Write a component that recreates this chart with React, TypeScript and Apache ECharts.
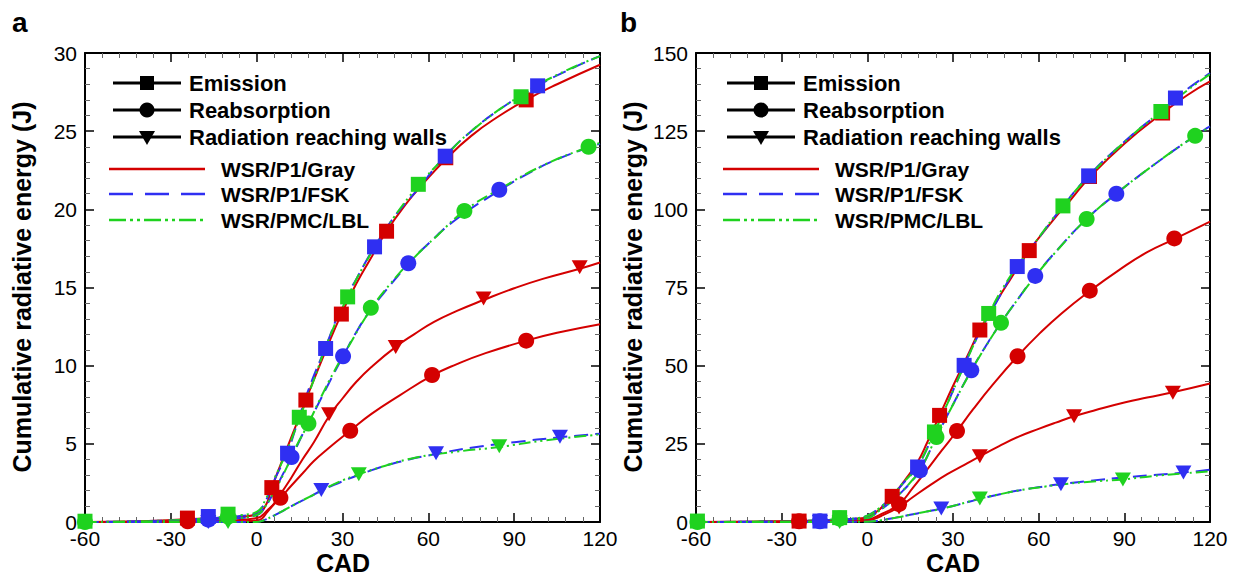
import React, { useEffect, useRef } from "react";
import * as echarts from "echarts";

const FONT = '"Liberation Sans", Arial, Helvetica, sans-serif';
const RED = "#d40000";
const BLUE = "#2f2ff2";
const GREEN = "#1fd21f";

type Pt = [number, number];

// ---------- axis ticks ----------
const cadTicks = { min: -60, max: 120, interval: 30 };
const energyTicksA = { min: 0, max: 30, interval: 5 };
const energyTicksB = { min: 0, max: 150, interval: 25 };

// ---------- legend texts ----------
const quantityLabels = ["Emission", "Reabsorption", "Radiation reaching walls"];
const methodLabels = ["WSR/P1/Gray", "WSR/P1/FSK", "WSR/PMC/LBL"];

// ================= Panel a =================
// Emission
const aEmGrayCurve: Pt[] = [[-60,0],[-40,0.05],[-25,0.18],[-15,0.25],[-5,0.35],[0,0.5],[3,1.0],[5.3,2.2],[8,3.5],[11,4.9],[14,6.3],[17.2,7.8],[20,9.1],[24,10.9],[29.6,13.3],[35,15.3],[40,16.9],[45.4,18.6],[52,20.3],[58,21.6],[66.1,23.2],[75,24.7],[85,26.0],[94.2,27.0],[105,28.0],[120,29.25]];
const aEmGrayMarks: Pt[] = [[-24.2,0.25],[5.3,2.2],[17.2,7.8],[29.6,13.3],[45.4,18.6],[66.1,23.3],[94.2,27.0]];
const aEmFskCurve: Pt[] = [[-60,0],[-40,0.05],[-25,0.15],[-15,0.25],[-5,0.4],[0,0.6],[3,1.3],[6,2.6],[10.8,4.5],[14,6.2],[18,8.4],[24.1,11.2],[30,13.9],[35,15.6],[41.2,17.6],[48,19.5],[55,21.0],[65.9,23.4],[75,25.0],[85,26.4],[98.2,27.9],[110,29.0],[120,29.8]];
const aEmFskMarks: Pt[] = [[-16.9,0.35],[10.8,4.4],[24.1,11.1],[41.2,17.6],[65.9,23.4],[98.2,27.9]];
const aEmLblCurve: Pt[] = [[-60,0],[-40,0.05],[-25,0.15],[-10,0.35],[-5,0.45],[0,0.65],[3,1.4],[6,2.7],[10,4.3],[14.9,6.6],[20,9.1],[25,11.6],[31.8,14.4],[40,17.2],[48,19.5],[56.5,21.5],[65,23.2],[75,25.0],[92.4,27.3],[105,28.6],[120,29.8]];
const aEmLblMarks: Pt[] = [[-60,0.05],[-10,0.5],[14.9,6.7],[31.8,14.4],[56.5,21.6],[92.4,27.2]];
// Reabsorption
const aReGrayCurve: Pt[] = [[-60,0],[-30,0.02],[-10,0.1],[0,0.25],[4,0.8],[8.3,1.55],[12,2.3],[16,3.1],[20,3.9],[25,4.7],[32.7,5.84],[40,6.9],[50,8.1],[61.3,9.36],[70,10.1],[80,10.8],[94.2,11.6],[105,12.1],[120,12.65]];
const aReGrayMarks: Pt[] = [[-24.1,0.05],[8.3,1.55],[32.7,5.84],[61.3,9.4],[94.2,11.6]];
const aReFskCurve: Pt[] = [[-60,0],[-30,0.03],[-10,0.2],[0,0.45],[3,1.0],[6,1.9],[9,3.0],[12.2,4.1],[16,5.6],[20,7.0],[25,8.8],[30.2,10.6],[35,12.2],[40,13.6],[46,15.0],[53,16.5],[60,17.8],[70,19.4],[84.8,21.2],[95,22.3],[105,23.2],[120,24.2]];
const aReFskMarks: Pt[] = [[-16.9,0.15],[12.2,4.15],[30.2,10.6],[53.0,16.55],[84.8,21.25]];
const aReLblCurve: Pt[] = [[-60,0],[-30,0.03],[-10,0.2],[0,0.45],[3,1.0],[6,1.9],[10,3.3],[14,4.9],[18.1,6.3],[22,7.8],[27,9.6],[32,11.2],[39.9,13.6],[47,15.3],[55,16.9],[63,18.3],[72.6,19.9],[85,21.3],[100,22.8],[116,24.0],[120,24.25]];
const aReLblMarks: Pt[] = [[-60,0],[-10,0.35],[18.1,6.3],[39.9,13.7],[72.6,19.9],[116,24.0]];
// Radiation reaching walls
const aWaGrayCurve: Pt[] = [[-60,0],[-30,0],[-10,0.02],[0,0.1],[4,0.7],[8,1.7],[12,2.8],[16,4.0],[20,5.1],[25.3,6.76],[30,7.9],[35,9.0],[40,9.9],[48.6,11.2],[55,12.0],[62,12.8],[70,13.5],[79.3,14.2],[90,14.95],[100,15.55],[112.9,16.2],[120,16.6]];
const aWaGrayMarks: Pt[] = [[25.3,6.9],[48.6,11.2],[79.3,14.3],[112.9,16.3]];
const aWaFskCurve: Pt[] = [[-60,0],[-30,0],[0,0],[3,0.15],[8,0.6],[13,1.1],[18,1.55],[22.6,2.0],[30,2.6],[40,3.3],[50,3.85],[62.7,4.35],[75,4.75],[90,5.1],[106,5.42],[120,5.65]];
const aWaFskMarks: Pt[] = [[-16.9,0],[22.6,2.05],[62.7,4.4],[106,5.45]];
const aWaLblCurve: Pt[] = [[-60,0],[-30,0],[0,0],[3,0.15],[8,0.6],[13,1.1],[20,1.75],[28,2.5],[35.7,3.05],[45,3.6],[55,4.1],[70,4.5],[84.8,4.8],[100,5.2],[120,5.6]];
const aWaLblMarks: Pt[] = [[-10,0],[35.7,3.05],[84.8,4.85]];

// ================= Panel b =================
const bEmGrayCurve: Pt[] = [[-60,0],[-40,0.1],[-25,0.3],[-10,0.7],[-3,1.1],[0,1.6],[4,3.8],[8.7,8.2],[13,13.2],[17.6,19.2],[21,25.5],[25.3,34.1],[30,43.5],[35,53],[39.4,61.4],[45,70.2],[50,77.5],[56.7,86.8],[65,96.5],[71,102.8],[77.8,110.2],[90,121],[103.4,130.8],[112,136.5],[120,140.9]];
const bEmGrayMarks: Pt[] = [[-23.9,0.3],[8.7,8.2],[25.3,34.1],[39.4,61.4],[56.7,86.8],[77.8,110.5],[103.4,130.8]];
const bEmFskCurve: Pt[] = [[-60,0],[-40,0.1],[-25,0.3],[-10,0.8],[-3,1.3],[0,2],[4,4.3],[8,7.5],[12,11.8],[17.6,17.8],[23.5,28.8],[28,37.8],[33.9,50.1],[39,60],[45,70],[52.5,81.7],[60,90.8],[68.5,101],[77.5,110.7],[90,121.6],[102.8,131.4],[107.9,135.6],[120,143.6]];
const bEmFskMarks: Pt[] = [[-16.6,0.3],[17.6,17.6],[33.9,50.1],[52.5,81.7],[77.5,110.7],[107.9,135.6]];
const bEmLblCurve: Pt[] = [[-60,0],[-40,0.1],[-25,0.3],[-9.7,0.9],[-3,1.3],[0,2],[4,4.3],[8,7.6],[12,12],[17.6,18],[23.5,28.8],[28,37.8],[33.9,50],[42.5,66.5],[50,78.5],[58,88.5],[68.5,101.1],[77.5,110.5],[90,121.5],[102.8,131.3],[112,138],[120,143.2]];
const bEmLblMarks: Pt[] = [[-59.5,0.3],[-9.7,1.4],[23.5,28.8],[42.5,66.7],[68.5,101.1],[102.8,131.3]];
const bReGrayCurve: Pt[] = [[-60,0],[-30,0.1],[-10,0.3],[0,0.8],[5,2.6],[11.1,5.7],[16,11],[21,16.8],[26,22.8],[31.4,29.1],[37,36],[44,44],[52.6,53],[60,60],[68,66.7],[77.9,73.9],[88,80.5],[98,86.3],[107.5,90.5],[120,96.1]];
const bReGrayMarks: Pt[] = [[-23.9,0.2],[11.1,5.7],[31.4,29.1],[52.6,53.0],[77.9,74.0],[107.5,90.7]];
const bReFskCurve: Pt[] = [[-60,0],[-30,0.1],[-10,0.5],[0,1.3],[4,3.5],[8,6.3],[12,9.6],[15,12.5],[18.4,16.5],[24.2,27.2],[30,37.6],[36.4,48.5],[41.5,56.3],[46.8,63.7],[52.5,71],[58.8,78.7],[67,87.5],[76.8,96.9],[87.2,105],[100,114],[114.8,123.5],[120,126.5]];
const bReFskMarks: Pt[] = [[-16.6,0.2],[18.4,16.5],[36.4,48.5],[58.8,78.7],[87.2,105]];
const bReLblCurve: Pt[] = [[-60,0],[-30,0.1],[-10,0.5],[0,1.3],[4,3.5],[8,6.3],[12,9.7],[15,12.6],[18.4,16.6],[24.2,27.2],[30,37.5],[36.4,48.4],[41.5,56.2],[46.8,63.7],[52.5,71],[58.8,78.6],[67,87.4],[76.8,96.9],[87.2,105],[100,114],[114.8,123.5],[120,126.2]];
const bReLblMarks: Pt[] = [[-59.5,0],[-9.7,1.1],[24.2,27.2],[46.8,63.7],[76.8,96.9],[114.8,123.5]];
const bWaGrayCurve: Pt[] = [[-60,0],[-30,0.05],[-10,0.15],[0,0.5],[5,2],[11.1,4.8],[16,8],[22,11.8],[28,15.3],[34,18.3],[39.4,21],[46,24.2],[53,27.3],[60,29.8],[66,31.8],[72.4,33.8],[80,35.8],[90,38.2],[98,39.8],[107,41.5],[120,44.3]];
const bWaGrayMarks: Pt[] = [[11.1,4.6],[39.4,21.0],[72.4,33.8],[107,41.3]];
const bWaFskCurve: Pt[] = [[-60,0],[-30,0],[0,0.1],[5,0.6],[10,1.4],[15,2.3],[20,3.2],[25.9,4.3],[32,5.6],[39.4,7.4],[47,9],[55,10.4],[62,11.4],[67.8,12.1],[78,13.2],[89.5,14.2],[100,15],[110.7,15.8],[120,16.7]];
const bWaFskMarks: Pt[] = [[-16.6,0],[25.9,4.3],[67.8,12.1],[110.7,15.8]];
const bWaLblCurve: Pt[] = [[-60,0],[-30,0],[0,0.1],[5,0.6],[10,1.4],[15,2.3],[20,3.2],[25.9,4.2],[32,5.6],[39.4,7.5],[47,9],[55,10.4],[62,11.3],[67.8,12],[78,12.9],[89.5,13.6],[100,14.7],[110,15.5],[120,16.2]];
const bWaLblMarks: Pt[] = [[-9.7,0],[39.4,7.5],[89.5,13.6]];

const methodColors = [RED, BLUE, GREEN];
const methodDash: any[] = ["solid", [14, 7], [12, 4, 2, 4, 2, 4]];
const quantitySymbols = ["rect", "circle", "triangle"];

const panelA = [
  [[aEmGrayCurve, aEmGrayMarks], [aEmFskCurve, aEmFskMarks], [aEmLblCurve, aEmLblMarks]],
  [[aReGrayCurve, aReGrayMarks], [aReFskCurve, aReFskMarks], [aReLblCurve, aReLblMarks]],
  [[aWaGrayCurve, aWaGrayMarks], [aWaFskCurve, aWaFskMarks], [aWaLblCurve, aWaLblMarks]],
];
const panelB = [
  [[bEmGrayCurve, bEmGrayMarks], [bEmFskCurve, bEmFskMarks], [bEmLblCurve, bEmLblMarks]],
  [[bReGrayCurve, bReGrayMarks], [bReFskCurve, bReFskMarks], [bReLblCurve, bReLblMarks]],
  [[bWaGrayCurve, bWaGrayMarks], [bWaFskCurve, bWaFskMarks], [bWaLblCurve, bWaLblMarks]],
];

function panelSeries(panel: any[], axisIdx: number) {
  const lines: any[] = [];
  const marks: any[] = [];
  panel.forEach((quantity: any[], q: number) => {
    quantity.forEach(([curve, pts]: any, m: number) => {
      lines.push({
        type: "line",
        xAxisIndex: axisIdx,
        yAxisIndex: axisIdx,
        data: curve,
        smooth: 0.5,
        showSymbol: false,
        symbol: "none",
        silent: true,
        z: 2,
        lineStyle: { color: methodColors[m], width: 2, type: methodDash[m] },
      });
      const sym = quantitySymbols[q];
      marks.push({
        type: "scatter",
        xAxisIndex: axisIdx,
        yAxisIndex: axisIdx,
        data: pts,
        symbol: sym,
        symbolSize: sym === "rect" ? 15 : sym === "circle" ? 16 : [16, 14],
        symbolRotate: sym === "triangle" ? 180 : 0,
        clip: false,
        silent: true,
        z: 3,
        itemStyle: { color: methodColors[m], opacity: 1 },
      });
    });
  });
  // triangles first, then circles, then squares
  const ordered = [...marks.slice(6), ...marks.slice(3, 6), ...marks.slice(0, 3)];
  return [...lines, ...ordered];
}

function xAxes(grid: number) {
  const base = {
    type: "value",
    gridIndex: grid,
    ...cadTicks,
    splitLine: { show: false },
    axisLine: { show: true, onZero: false, lineStyle: { color: "#000", width: 2 } },
    axisTick: { show: true, inside: true, length: 9, lineStyle: { color: "#000", width: 1.5 } },
    minorTick: { show: true, splitNumber: 5, length: 5, lineStyle: { color: "#666", width: 1 } },
  };
  return [
    { ...base, position: "bottom", axisLabel: { show: true, color: "#000", fontSize: 21, fontFamily: FONT, margin: 6 } },
    { ...base, position: "top", axisLabel: { show: false } },
  ];
}

function yAxes(grid: number, ticks: any) {
  const base = {
    type: "value",
    gridIndex: grid,
    ...ticks,
    splitLine: { show: false },
    axisLine: { show: true, onZero: false, lineStyle: { color: "#000", width: 2 } },
    axisTick: { show: true, inside: true, length: 9, lineStyle: { color: "#000", width: 1.5 } },
    minorTick: { show: true, splitNumber: 5, length: 5, lineStyle: { color: "#666", width: 1 } },
  };
  return [
    { ...base, position: "left", axisLabel: { show: true, color: "#000", fontSize: 21, fontFamily: FONT, margin: 8 } },
    { ...base, position: "right", axisLabel: { show: false } },
  ];
}

function legendGraphics(ox: number) {
  const g: any[] = [];
  const rowsY = [83, 110, 137];
  rowsY.forEach((y, i) => {
    const mx = 147 + ox;
    g.push({ type: "line", z: 10, shape: { x1: 113 + ox, y1: y, x2: 181 + ox, y2: y }, style: { stroke: "#000", lineWidth: 3 } });
    if (i === 0) g.push({ type: "rect", z: 11, shape: { x: mx - 7, y: y - 7, width: 14, height: 14 }, style: { fill: "#000" } });
    if (i === 1) g.push({ type: "circle", z: 11, shape: { cx: mx, cy: y, r: 7.5 }, style: { fill: "#000" } });
    if (i === 2) g.push({ type: "polygon", z: 11, shape: { points: [[mx - 8, y - 6], [mx + 8, y - 6], [mx, y + 8]] }, style: { fill: "#000" } });
    g.push({ type: "text", z: 11, x: 189 + ox, y, style: { text: quantityLabels[i], font: `bold 22px ${FONT}`, fill: "#000", align: "left", verticalAlign: "middle" } });
  });
  const methY = [169, 194, 220];
  const legDash: any[] = [null, [24, 12], [17, 4, 3, 4, 3, 4]];
  methY.forEach((y, i) => {
    g.push({ type: "line", z: 10, shape: { x1: 109 + ox, y1: y, x2: 205 + ox, y2: y }, style: { stroke: methodColors[i], lineWidth: 2.5, lineDash: legDash[i] } });
    g.push({ type: "text", z: 11, x: 221 + ox, y, style: { text: methodLabels[i], font: `bold 21px ${FONT}`, fill: "#000", align: "left", verticalAlign: "middle" } });
  });
  return g;
}

export default function App() {
  const ref = useRef<HTMLDivElement>(null);
  useEffect(() => {
    if (!ref.current) return;
    const chart = echarts.init(ref.current, null, { renderer: "svg" });
    const titleFont = `bold 25px ${FONT}`;
    chart.setOption({
      animation: false,
      backgroundColor: "#fff",
      grid: [
        { left: 85, top: 53, width: 515, height: 469 },
        { left: 696, top: 53, width: 514, height: 469 },
      ],
      xAxis: [...xAxes(0), ...xAxes(1)],
      yAxis: [...yAxes(0, energyTicksA), ...yAxes(1, energyTicksB)],
      series: [...panelSeries(panelA, 0), ...panelSeries(panelB, 2)],
      graphic: [
        { type: "text", x: 12, y: 22, style: { text: "a", font: `bold 28px ${FONT}`, fill: "#000", verticalAlign: "middle" } },
        { type: "text", x: 620, y: 22, style: { text: "b", font: `bold 28px ${FONT}`, fill: "#000", verticalAlign: "middle" } },
        { type: "text", x: 343, y: 563, style: { text: "CAD", font: titleFont, fill: "#000", align: "center", verticalAlign: "middle" } },
        { type: "text", x: 953, y: 563, style: { text: "CAD", font: titleFont, fill: "#000", align: "center", verticalAlign: "middle" } },
        { type: "text", x: 22, y: 287, rotation: Math.PI / 2, style: { text: "Cumulative radiative energy (J)", font: titleFont, fill: "#000", align: "center", verticalAlign: "middle" } },
        { type: "text", x: 633, y: 287, rotation: Math.PI / 2, style: { text: "Cumulative radiative energy (J)", font: titleFont, fill: "#000", align: "center", verticalAlign: "middle" } },
        ...legendGraphics(0),
        ...legendGraphics(614),
      ],
    });
    return () => chart.dispose();
  }, []);
  return <div ref={ref} style={{ position: "fixed", left: 0, top: 0, width: 1239, height: 578 }} />;
}
